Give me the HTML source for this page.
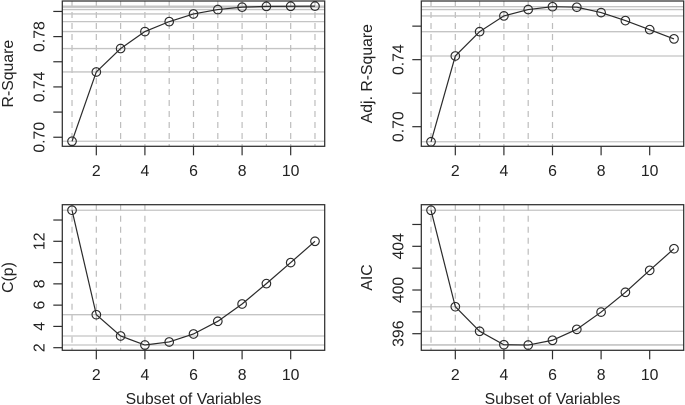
<!DOCTYPE html>
<html>
<head>
<meta charset="utf-8">
<title>Subset selection criteria</title>
<style>
html,body{margin:0;padding:0;background:#fff;}
svg{display:block;filter:blur(0.35px);}
text{font-family:"Liberation Sans",Arial,sans-serif;font-size:15.8px;fill:#222;}
</style>
</head>
<body>
<svg id="chart" width="685" height="405" viewBox="0 0 685 405" xmlns="http://www.w3.org/2000/svg"></svg>
<script>
// Shared x axis
const subsetSizes = [1,2,3,4,5,6,7,8,9,10,11];
const xTicks = [2,4,6,8,10];
const xDomain = [0.6,11.4];

// Series values
const rSquareValues = [0.6968,0.7519,0.7705,0.7840,0.7919,0.7980,0.8015,0.8034,0.8040,0.8041,0.8042];
const adjRSquareValues = [0.6910,0.7422,0.7567,0.7661,0.7699,0.7716,0.7713,0.7681,0.7633,0.7579,0.7524];
const cpValues = [14.92,5.10,3.10,2.25,2.54,3.29,4.48,6.11,8.02,10.0,12.0];
const aicValues = [407.30,398.47,396.22,394.99,394.96,395.40,396.40,397.98,399.79,401.80,403.78];

// Y domains
const rSquareDomain = [0.6928,0.8083];
const adjRSquareDomain = [0.6883,0.7750];
const cpDomain = [1.755,15.44];
const aicDomain = [394.48,407.81];

// Y ticks and labels
const rSquareTicks = [0.70,0.72,0.74,0.76,0.78,0.80];
const rSquareTickLabels = ["0.70","","0.74","","0.78",""];
const adjRSquareTicks = [0.70,0.72,0.74,0.76];
const adjRSquareTickLabels = ["0.70","","0.74",""];
const cpTicks = [2,4,6,8,10,12,14];
const cpTickLabels = ["2","4","6","8","","12",""];
const aicTicks = [396,398,400,402,404,406];
const aicTickLabels = ["396","","400","","404",""];

// Number of subsets carrying reference lines
const rSquareRefCount = 11;
const adjRSquareRefCount = 6;
const cpRefCount = 4;
const aicRefCount = 5;

const NS = "http://www.w3.org/2000/svg";
const svg = document.getElementById("chart");

function make(tag, attrs, parent, text){
  const el = document.createElementNS(NS, tag);
  for(const k in attrs){ el.setAttribute(k, attrs[k]); }
  if(text !== undefined){ el.textContent = text; }
  parent.appendChild(el);
  return el;
}

function drawPanel(cfg){
  const g = make("g", {}, svg);
  
  

  const xScale = v => cfg.left + (v - xDomain[0]) / (xDomain[1] - xDomain[0]) * (cfg.right - cfg.left);
  const yScale = v => cfg.bottom - (v - cfg.domain[0]) / (cfg.domain[1] - cfg.domain[0]) * (cfg.bottom - cfg.top);

  // reference lines
  for(let i = 0; i < cfg.refCount; i++){
    const yv = yScale(cfg.values[i]);
    const h = make("line", {x1:cfg.left, x2:cfg.right, y1:yv, y2:yv, stroke:"#c4c4c4", "stroke-width":1.3}, g);
    
    
    const xv = xScale(subsetSizes[i]);
    const d = make("line", {x1:xv, x2:xv, y1:cfg.top, y2:cfg.bottom, stroke:"#bdbdbd", "stroke-width":1.2, "stroke-dasharray":"6 5"}, g);
    
    
  }

  // series line
  const pts = subsetSizes.map((s,i) => xScale(s).toFixed(2) + "," + yScale(cfg.values[i]).toFixed(2)).join(" ");
  const line = make("polyline", {points:pts, fill:"none", stroke:"#2a2a2a", "stroke-width":1.2}, g);
  
  

  // points
  subsetSizes.forEach((s,i) => {
    const c = make("circle", {cx:xScale(s), cy:yScale(cfg.values[i]), r:4.3, fill:"none", stroke:"#2a2a2a", "stroke-width":1.15}, g);
    
    
  });

  // plot box
  const box = make("rect", {x:cfg.left, y:cfg.top, width:cfg.right-cfg.left, height:cfg.bottom-cfg.top, fill:"none", stroke:"#2e2e2e", "stroke-width":1.25}, g);
  
  

  // x axis
  xTicks.forEach(t => {
    const xv = xScale(t);
    const tk = make("line", {x1:xv, x2:xv, y1:cfg.bottom, y2:cfg.bottom+9, stroke:"#2e2e2e", "stroke-width":1.2}, g);
    
    
    const lb = make("text", {x:xv, y:cfg.bottom+29.5, "text-anchor":"middle"}, g, String(t));
    
    
  });
  if(cfg.showXTitle){
    const xt = make("text", {x:(cfg.left+cfg.right)/2, y:404, "text-anchor":"middle"}, g, "Subset of Variables");
    
    
  }

  // y axis
  cfg.ticks.forEach((t,i) => {
    const yv = yScale(t);
    const tk = make("line", {x1:cfg.left-9, x2:cfg.left, y1:yv, y2:yv, stroke:"#2e2e2e", "stroke-width":1.2}, g);
    
    
    if(cfg.tickLabels[i]){
      const lb = make("text", {transform:"translate(" + (cfg.left-18) + "," + yv + ") rotate(-90)", "text-anchor":"middle"}, g, cfg.tickLabels[i]);
      
      
    }
  });
  const yt = make("text", {transform:"translate(" + (cfg.left-49.5) + "," + ((cfg.top+cfg.bottom)/2) + ") rotate(-90)", "text-anchor":"middle"}, g, cfg.title);
  
  
}

drawPanel({name:"r-square", title:"R-Square", left:62.3, right:324.7, top:1, bottom:146.3,
  values:rSquareValues, domain:rSquareDomain, ticks:rSquareTicks, tickLabels:rSquareTickLabels, refCount:rSquareRefCount, showXTitle:false});
drawPanel({name:"adj-r-square", title:"Adj. R-Square", left:421.3, right:683.7, top:1, bottom:146.3,
  values:adjRSquareValues, domain:adjRSquareDomain, ticks:adjRSquareTicks, tickLabels:adjRSquareTickLabels, refCount:adjRSquareRefCount, showXTitle:false});
drawPanel({name:"cp", title:"C(p)", left:62.3, right:324.7, top:204.7, bottom:350.3,
  values:cpValues, domain:cpDomain, ticks:cpTicks, tickLabels:cpTickLabels, refCount:cpRefCount, showXTitle:true});
drawPanel({name:"aic", title:"AIC", left:421.3, right:683.7, top:204.7, bottom:350.3,
  values:aicValues, domain:aicDomain, ticks:aicTicks, tickLabels:aicTickLabels, refCount:aicRefCount, showXTitle:true});
</script>
</body>
</html>
